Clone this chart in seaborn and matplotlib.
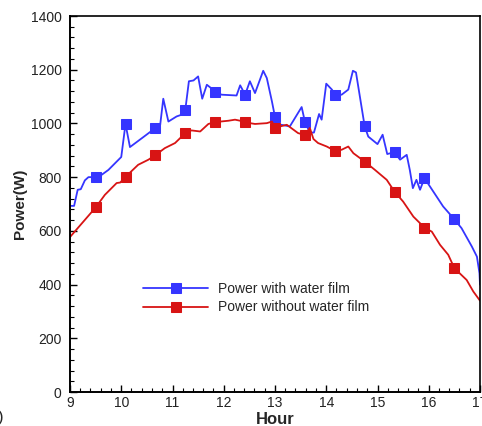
import numpy as np
import pandas as pd
import matplotlib
matplotlib.use("Agg")
import matplotlib.pyplot as plt
import seaborn as sns

# ---- data ----
blue_x = [9.00, 9.08, 9.15, 9.21, 9.29, 9.36, 9.50, 9.62, 9.75, 9.88, 10.00, 10.083,
          10.17, 10.43, 10.667, 10.76, 10.82, 10.92, 11.08, 11.17, 11.25, 11.32, 11.41,
          11.50, 11.58, 11.67, 11.75, 11.833, 11.96, 12.25, 12.32, 12.417, 12.51, 12.61,
          12.77, 12.84, 12.94, 13.00, 13.06, 13.29, 13.52, 13.583, 13.68, 13.76, 13.86,
          13.91, 14.00, 14.11, 14.167, 14.30, 14.43, 14.52, 14.58, 14.75, 14.82, 15.00,
          15.10, 15.19, 15.333, 15.44, 15.57, 15.63, 15.69, 15.76, 15.83, 15.917, 16.09,
          16.28, 16.50, 16.64, 16.84, 16.94, 16.99, 17.00]
blue_y = [693, 693, 753, 755, 788, 800, 800, 809, 827, 852, 875, 998,
          912, 949, 983, 995, 1092, 1007, 1026, 1032, 1051, 1157, 1160,
          1175, 1092, 1144, 1132, 1116, 1107, 1104, 1142, 1107, 1157, 1113,
          1196, 1169, 1082, 1024, 997, 989, 1061, 1007, 966, 966, 1035,
          1014, 1148, 1126, 1107, 1107, 1126, 1196, 1190, 989, 951, 923,
          958, 886, 893, 865, 883, 827, 759, 790, 753, 796, 746,
          691, 643, 610, 542, 504, 442, 400]

red_x = [9.00, 9.50, 9.68, 9.91, 9.98, 10.083, 10.33, 10.53, 10.667, 10.85, 11.05,
         11.25, 11.37, 11.54, 11.70, 11.833, 12.09, 12.22, 12.32, 12.417, 12.61, 12.84,
         12.94, 13.00, 13.23, 13.45, 13.583, 13.68, 13.75, 13.84, 14.01, 14.167, 14.30,
         14.43, 14.53, 14.75, 14.95, 15.18, 15.333, 15.50, 15.70, 15.917, 16.06, 16.22,
         16.38, 16.50, 16.74, 16.87, 17.00]
red_y = [577, 687, 734, 778, 780, 801, 846, 865, 882, 908, 927,
         964, 974, 970, 998, 1005, 1010, 1014, 1010, 1004, 998, 1001,
         1007, 984, 995, 964, 957, 983, 942, 927, 914, 898, 902,
         914, 889, 858, 827, 790, 746, 709, 653, 612, 597, 548,
         511, 461, 417, 374, 340]

marker_x = [9.5, 10.083, 10.667, 11.25, 11.833, 12.417, 13.0, 13.583,
            14.167, 14.75, 15.333, 15.917, 16.5]

labels = ["Power with water film", "Power without water film"]
x_ticks = [9, 10, 11, 12, 13, 14, 15, 16, 17]
y_ticks = [0, 200, 400, 600, 800, 1000, 1200, 1400]

# ---- style ----
sns.set_style("ticks")
plt.rcParams["font.family"] = ["Liberation Sans", "DejaVu Sans"]

fig = plt.figure(figsize=(4.82, 4.26), dpi=100)
ax = fig.add_axes([70 / 482, 1 - 392 / 426, 410 / 482, 376 / 426])

blue_df = pd.DataFrame({"Hour": blue_x, "Power": blue_y})
red_df = pd.DataFrame({"Hour": red_x, "Power": red_y})

blue_mark = [i for i, v in enumerate(blue_x) if any(abs(v - m) < 1e-6 for m in marker_x)]
red_mark = [i for i, v in enumerate(red_x) if any(abs(v - m) < 1e-6 for m in marker_x)]

bc = "#3535ff"
rc = "#d81414"
sns.lineplot(data=blue_df, x="Hour", y="Power", ax=ax, color=bc, lw=1.3,
             marker="s", markersize=6.5, markevery=blue_mark,
             markeredgecolor=bc, markerfacecolor=bc, label=labels[0],
             errorbar=None, sort=False)
sns.lineplot(data=red_df, x="Hour", y="Power", ax=ax, color=rc, lw=1.3,
             marker="s", markersize=6.5, markevery=red_mark,
             markeredgecolor=rc, markerfacecolor=rc, label=labels[1],
             errorbar=None, sort=False)

ax.set_xlim(9, 17)
ax.set_ylim(0, 1400)
ax.set_xticks(x_ticks)
ax.set_yticks(y_ticks)
ax.set_xticks(np.arange(9, 17.001, 0.2), minor=True)
ax.set_yticks(np.arange(0, 1400.1, 40), minor=True)
ax.tick_params(which="both", direction="in", top=False, right=False,
               labelsize=10, colors="black", labelcolor="#222222")
ax.tick_params(which="major", length=5, width=1.0)
ax.tick_params(which="minor", length=3, width=0.8)
ax.tick_params(axis="y", pad=6)
ax.tick_params(axis="x", pad=3)

for s in ax.spines.values():
    s.set_visible(True)
    s.set_color("black")
ax.spines["left"].set_linewidth(1.4)
ax.spines["bottom"].set_linewidth(1.4)
ax.spines["top"].set_linewidth(1.2)
ax.spines["right"].set_linewidth(1.2)

ax.set_xlabel("Hour", fontsize=12, fontweight="bold", labelpad=1)
ax.set_ylabel("Power(W)", fontsize=11, fontweight="bold", labelpad=3)

leg = ax.legend(loc="upper left", bbox_to_anchor=(0.178, 0.292), frameon=False,
                fontsize=10, handlelength=4.7, handletextpad=0.7,
                labelspacing=0.3, borderpad=0, borderaxespad=0)

fig.text(-0.004, 0.002, ")", fontsize=12, ha="left", va="bottom")

fig.savefig("out.png", dpi=100, facecolor="white")
